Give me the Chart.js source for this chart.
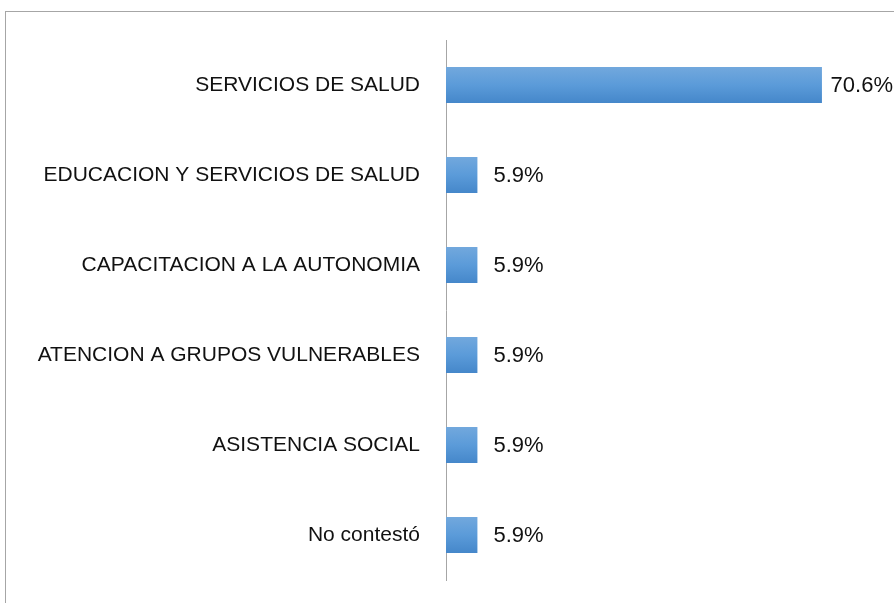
<!DOCTYPE html>
<html>
<head>
<meta charset="utf-8">
<script src="https://cdn.jsdelivr.net/npm/chart.js@4.4.1/dist/chart.umd.min.js"></script>
<style>
  html, body { margin: 0; padding: 0; background: #fff; }
  .wrap { position: relative; width: 894px; height: 603px; }
  .frame { position: absolute; left: 5px; top: 11px; right: 0; bottom: 0; border-left: 1px solid #a6a6a6; border-top: 1px solid #a6a6a6; }
  canvas { position: absolute; left: 0; top: 0; }
</style>
</head>
<body>
<div class="wrap">
  <div class="frame"></div>
  <canvas id="myChart" width="894" height="603"></canvas>
</div>
<script>
// categories top to bottom
const categories = [
  'SERVICIOS DE SALUD',
  'EDUCACION Y SERVICIOS DE SALUD',
  'CAPACITACION A LA AUTONOMIA',
  'ATENCION A GRUPOS VULNERABLES',
  'ASISTENCIA SOCIAL',
  'No contestó'
];
// percentages
const values = [70.6, 5.9, 5.9, 5.9, 5.9, 5.9];

const valueFont = '22px "Liberation Sans", sans-serif';

//vertical gradient for each bar, built from where the bar ended up last update
function barFill(context) {
  const chart = context.chart;
  const el = chart.getDatasetMeta(0).data[context.dataIndex];
  if (!el || el.y === undefined || !el.height) return '#5b9bd9';
  const top = el.y - el.height / 2;
  const g = chart.ctx.createLinearGradient(0, top, 0, top + el.height);
  g.addColorStop(0, '#72a8dd');
  g.addColorStop(0.5, '#5b9bd9');
  g.addColorStop(1, '#4587ca');
  return g;
}

//value labels at the end of the bars, pulled back in if they would leave the canvas
const valueLabels = {
  id: 'valueLabels',
  afterDatasetsDraw(chart) {
    const c = chart.ctx;
    c.save();
    c.font = valueFont;
    c.fillStyle = '#111';
    c.textBaseline = 'middle';
    chart.getDatasetMeta(0).data.forEach((el, i) => {
      const txt = values[i].toFixed(1) + '%';
      const w = c.measureText(txt).width;
      const x = Math.min(el.x + 16, chart.width - w - 1);
      c.fillText(txt, x, el.y + 1);
    });
    c.restore();
  }
};

const ctx = document.getElementById('myChart');
const chart = new Chart(ctx, {
  type: 'bar',
  data: {
    labels: categories,
    datasets: [{
      data: values,
      backgroundColor: barFill,
      borderWidth: 0,
      categoryPercentage: 1,
      barPercentage: 0.4
    }]
  },
  options: {
    indexAxis: 'y',
    responsive: false,
    animation: false,
    layout: {
      padding: { left: 0, right: 22, top: 40, bottom: 23 }
    },
    scales: {
      x: {
        display: false,
        min: 0,
        max: 80
      },
      y: {
        afterFit: (scale) => {
          scale.width = 446;
          //no extra room for the first/last label, the layout padding handles it
          scale.paddingTop = 0;
          scale.paddingBottom = 0;
        },
        grid: { display: false, drawTicks: false },
        border: { display: true, color: '#a6a6a6', width: 1 },
        ticks: {
          padding: 26,
          color: '#111',
          font: { family: '"Liberation Sans", sans-serif', size: 21 }
        }
      }
    },
    plugins: {
      legend: { display: false },
      tooltip: { enabled: false }
    }
  },
  plugins: [valueLabels]
});
chart.update();
</script>
</body>
</html>
